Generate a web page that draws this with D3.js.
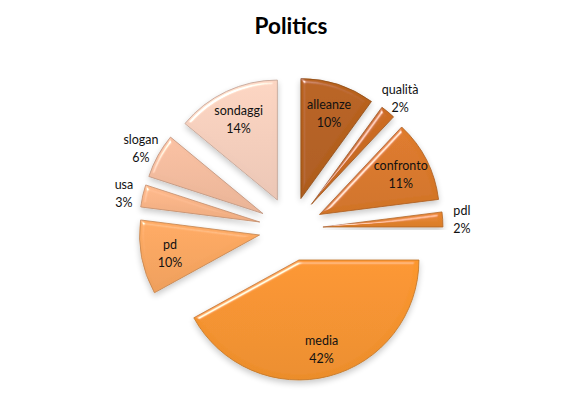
<!DOCTYPE html>
<html><head><meta charset="utf-8">
<script src="https://cdn.jsdelivr.net/npm/d3@7"></script>
<style>body{margin:0;background:#fff}svg{display:block}</style>
</head><body>
<svg id="chart" width="582" height="420"></svg>
<script>
const categories = ["alleanze","qualità","confronto","pdl","media","pd","usa","slogan","sondaggi"];
const values = [10,2,11,2,42,10,3,6,14];
const labels = ["10%","2%","11%","2%","42%","10%","3%","6%","14%"];
const colors = ["#b5601d","#c86a21","#d97829","#e3822d","#f5932e","#f8a660","#f8b487","#f3bc9e","#f5cfbd"];
const outsideLabel = [false,true,false,true,false,false,true,true,false];

const svg = d3.select("#chart");
const cx = 291, cy = 229, R = 120, explode = 32;

svg.append("text").attr("x", cx).attr("y", 34).attr("text-anchor","middle")
  .attr("font-family","Lato, 'Open Sans', sans-serif").attr("font-weight","bold")
  .attr("font-size", 22.5).attr("fill","#000").text("Politics");

const defs = svg.append("defs");
const f = defs.append("filter").attr("id","bevel").attr("x","-20%").attr("y","-20%").attr("width","140%").attr("height","140%");
f.append("feGaussianBlur").attr("in","SourceAlpha").attr("stdDeviation",2).attr("result","blur");
const sp = f.append("feSpecularLighting").attr("in","blur").attr("surfaceScale",4).attr("specularConstant",1)
  .attr("specularExponent",35).attr("lighting-color","#fff").attr("result","spec");
sp.append("feDistantLight").attr("azimuth",235).attr("elevation",30);
f.append("feComposite").attr("in","spec").attr("in2","SourceAlpha").attr("operator","in").attr("result","specOut");
f.append("feComposite").attr("in","SourceGraphic").attr("in2","specOut").attr("operator","arithmetic")
  .attr("k1",0).attr("k2",1).attr("k3",0.8).attr("k4",0).attr("result","lit");
f.append("feGaussianBlur").attr("in","SourceAlpha").attr("stdDeviation",3).attr("result","sb");
f.append("feOffset").attr("in","sb").attr("dx",0).attr("dy",3).attr("result","so");
f.append("feComponentTransfer").attr("in","so").attr("result","sh").append("feFuncA").attr("type","linear").attr("slope",0.22);
const m = f.append("feMerge");
m.append("feMergeNode").attr("in","sh");
m.append("feMergeNode").attr("in","lit");

colors.forEach((c,i)=>{
  const g = defs.append("linearGradient").attr("id","g"+i).attr("x1",0).attr("y1",0).attr("x2",0).attr("y2",1);
  g.append("stop").attr("offset","0%").attr("stop-color", d3.color(c).brighter(0.08));
  g.append("stop").attr("offset","100%").attr("stop-color", d3.color(c).darker(0.12));
});

const pie = d3.pie().sort(null).value(d=>d)(values);
const arc = d3.arc().innerRadius(0).outerRadius(R);

const gRoot = svg.append("g").attr("transform",`translate(${cx},${cy})`);
const slices = gRoot.selectAll("g.s").data(pie).join("g").attr("class","s")
  .attr("transform", d=>{
    const a = (d.startAngle+d.endAngle)/2;
    return `translate(${explode*Math.sin(a)},${-explode*Math.cos(a)})`;
  });
slices.append("path").attr("d", arc)
  .attr("fill",(d,i)=>`url(#g${i})`)
  .attr("stroke",(d,i)=>d3.color(colors[i]).darker(0.7))
  .attr("stroke-width",0.8)
  .attr("filter","url(#bevel)");

slices.each(function(d,i){
  const a = (d.startAngle+d.endAngle)/2;
  const r = outsideLabel[i] ? R*1.16 : R*0.76;
  const x = r*Math.sin(a), y = -r*Math.cos(a);
  const t = d3.select(this).append("text").attr("text-anchor","middle")
    .attr("font-family","Lato, 'Open Sans', sans-serif").attr("font-size",12.5).attr("fill","#111");
  t.append("tspan").attr("x",x).attr("y",y-3).text(categories[i]);
  t.append("tspan").attr("x",x).attr("y",y+15).text(labels[i]);
});
</script>
</body></html>
